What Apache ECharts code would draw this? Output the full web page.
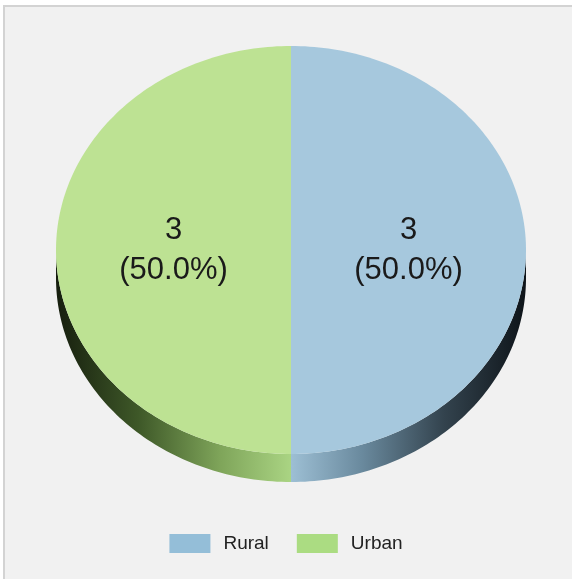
<!DOCTYPE html>
<html>
<head>
<meta charset="utf-8">
<script src="https://cdn.jsdelivr.net/npm/echarts@6/dist/echarts.min.js"></script>
<style>
  html, body { margin: 0; padding: 0; background: #fff; }
  #container { width: 572px; height: 579px; }
</style>
</head>
<body>
<div id="container"></div>
<script>
  // data
  var categories = ['Rural', 'Urban'];
  var values = [3, 3];

  // look
  var topColors = ['#a6c8dd', '#bde293'];
  var legendColors = ['#94bed8', '#abdc82'];
  var sideStops = [
    ['#9dbfd4', '#6a8a9e', '#33434e', '#0e1419'],
    ['#aad483', '#7fa55a', '#3e5828', '#161e0e']
  ];

  var total = values.reduce(function (a, b) { return a + b; }, 0);
  var starts = [];
  var acc = 0;
  for (var i = 0; i < values.length; i++) { starts.push(acc); acc += values[i]; }

  var cx = 291, cy = 250, rx = 235, ry = 204, depth = 28;

  function pt(t, dy) {
    return [cx + rx * Math.sin(t), cy - ry * Math.cos(t) + (dy || 0)];
  }

  function arc(a, b, dy) {
    var pts = [];
    var n = Math.max(2, Math.ceil((b - a) / 0.02));
    for (var k = 0; k <= n; k++) pts.push(pt(a + (b - a) * k / n, dy));
    return pts;
  }

  function makeRender(idx) {
    return function (params, api) {
      var v = api.value(0);
      var t0 = starts[idx] / total * Math.PI * 2;
      var t1 = t0 + v / total * Math.PI * 2;
      var children = [];

      // side band (front half only)
      var a = Math.max(t0, Math.PI / 2), b = Math.min(t1, Math.PI * 3 / 2);
      if (b > a) {
        var up = arc(a, b, 0);
        var down = arc(a, b, depth).reverse();
        var edgeX = (Math.sin(a) + Math.sin(b)) / 2 > 0 ? cx + rx : cx - rx;
        var st = sideStops[idx];
        children.push({
          type: 'polygon',
          shape: { points: up.concat(down) },
          style: {
            fill: new echarts.graphic.LinearGradient(cx, 0, edgeX, 0, [
              { offset: 0, color: st[0] },
              { offset: 0.3, color: st[1] },
              { offset: 0.65, color: st[2] },
              { offset: 1, color: st[3] }
            ], true)
          }
        });
      }

      // top face
      children.push({
        type: 'polygon',
        shape: { points: [[cx, cy]].concat(arc(t0, t1, 0)) },
        style: { fill: topColors[idx] }
      });

      // label
      var tm = (t0 + t1) / 2;
      var lp = [cx + rx * 0.5 * Math.sin(tm), cy - ry * 0.5 * Math.cos(tm)];
      children.push({
        type: 'text',
        z2: 10,
        style: {
          x: lp[0], y: lp[1],
          text: v + '\n(' + (v / total * 100).toFixed(1) + '%)',
          align: 'center',
          verticalAlign: 'middle',
          fontFamily: 'Liberation Sans',
          fontSize: 31,
          lineHeight: 40,
          fill: '#1a1a1a'
        }
      });
      return { type: 'group', children: children };
    };
  }

  var series = categories.map(function (name, idx) {
    return {
      name: name,
      type: 'custom',
      coordinateSystem: 'none',
      itemStyle: { color: legendColors[idx] },
      renderItem: makeRender(idx),
      data: [[values[idx]]],
      silent: true
    };
  });

  var myChart = echarts.init(document.getElementById('container'));
  myChart.setOption({
    animation: false,
    backgroundColor: '#ffffff',
    graphic: [{
      type: 'rect',
      z: -10,
      shape: { x: 4, y: 6, width: 600, height: 600 },
      style: { fill: '#f1f1f1', stroke: '#d3d3d3', lineWidth: 2 }
    }],
    legend: {
      bottom: 21,
      left: 'center',
      itemWidth: 41,
      itemHeight: 19,
      itemGap: 28,
      icon: 'rect',
      data: categories,
      textStyle: {
        fontFamily: 'Liberation Sans',
        fontSize: 19,
        color: '#222',
        padding: [0, 0, 0, 8]
      }
    },
    series: series
  });
</script>
</body>
</html>
